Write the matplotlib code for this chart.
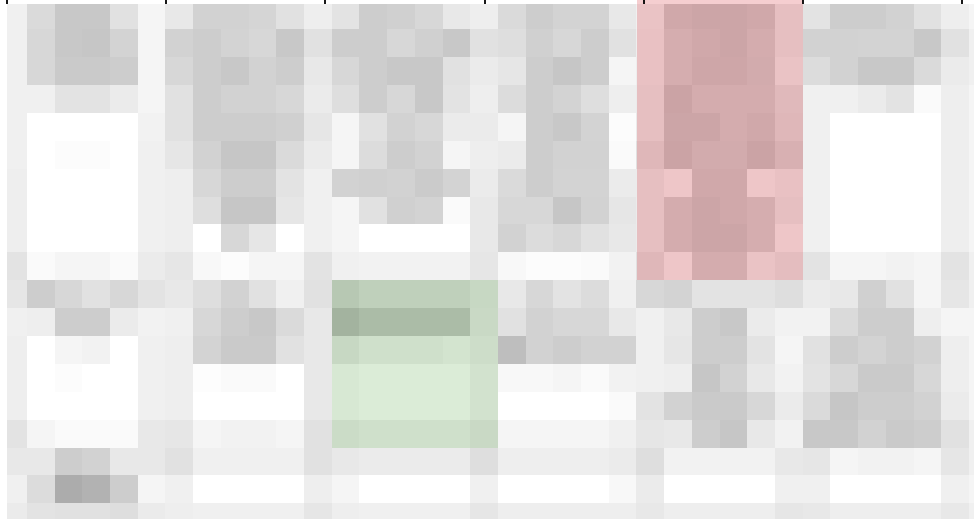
import matplotlib
matplotlib.use('Agg')
import matplotlib.pyplot as plt
from matplotlib.patches import Rectangle
import numpy as np

# grey level of each block, one list per row (0 = black, 255 = white)
row00 = [240, 218, 200, 200, 225, 245, 232, 210, 210, 213, 225, 238, 228, 205, 208, 215, 232, 238, 218, 205, 212, 212, 232, 240, 205, 200, 200, 205, 235, 228, 205, 205, 210, 225, 238, 245]
row01 = [240, 215, 200, 198, 212, 245, 210, 205, 212, 215, 200, 225, 205, 205, 215, 208, 200, 225, 222, 208, 215, 205, 225, 238, 212, 205, 200, 210, 235, 210, 210, 212, 212, 200, 225, 240]
row02 = [240, 215, 202, 202, 205, 245, 215, 205, 200, 210, 205, 232, 215, 205, 200, 200, 225, 235, 230, 205, 198, 205, 245, 238, 212, 202, 202, 208, 240, 220, 210, 200, 200, 218, 235, 240]
row03 = [240, 240, 228, 228, 235, 245, 225, 205, 210, 210, 215, 235, 222, 205, 215, 200, 228, 238, 220, 205, 212, 222, 238, 235, 198, 210, 210, 210, 228, 240, 240, 235, 228, 250, 238, 245]
row04 = [240, 255, 255, 255, 255, 242, 225, 205, 205, 205, 208, 230, 245, 225, 210, 215, 235, 235, 245, 205, 200, 212, 252, 235, 200, 200, 210, 205, 225, 240, 255, 255, 255, 255, 238, 245]
row05 = [240, 255, 252, 252, 255, 240, 230, 210, 198, 198, 218, 235, 245, 220, 205, 210, 245, 238, 235, 205, 210, 210, 250, 225, 198, 208, 208, 198, 215, 240, 255, 255, 255, 255, 238, 245]
row06 = [238, 255, 255, 255, 255, 240, 238, 215, 205, 205, 228, 240, 210, 208, 210, 203, 212, 235, 218, 205, 212, 212, 235, 235, 245, 205, 205, 245, 238, 240, 255, 255, 255, 255, 238, 245]
row07 = [238, 255, 255, 255, 255, 240, 238, 222, 198, 198, 230, 240, 245, 225, 208, 212, 250, 232, 215, 215, 198, 210, 230, 235, 210, 200, 205, 212, 235, 240, 255, 255, 255, 255, 238, 245]
row08 = [238, 255, 255, 255, 255, 240, 238, 255, 215, 230, 255, 240, 245, 255, 255, 255, 255, 232, 210, 220, 215, 225, 232, 235, 210, 200, 200, 212, 245, 240, 255, 255, 255, 255, 238, 245]
row09 = [228, 250, 245, 245, 250, 235, 230, 248, 252, 245, 245, 228, 240, 242, 242, 242, 242, 230, 248, 252, 252, 250, 242, 225, 245, 210, 210, 240, 232, 228, 245, 245, 242, 245, 228, 240]
row10 = [230, 205, 215, 225, 215, 228, 232, 222, 210, 225, 240, 225, 205, 215, 215, 215, 215, 225, 232, 215, 228, 220, 240, 215, 212, 228, 228, 228, 222, 235, 232, 208, 225, 245, 230, 240]
row11 = [240, 238, 205, 205, 235, 242, 240, 215, 205, 200, 218, 232, 180, 190, 190, 190, 190, 228, 225, 210, 215, 215, 232, 240, 232, 205, 200, 235, 242, 242, 218, 205, 205, 238, 245, 245]
row12 = [238, 255, 245, 242, 255, 240, 238, 212, 202, 202, 225, 232, 225, 235, 235, 235, 240, 232, 190, 210, 205, 210, 210, 240, 230, 205, 205, 228, 245, 225, 205, 212, 205, 210, 238, 245]
row13 = [238, 255, 252, 255, 255, 240, 238, 253, 250, 250, 255, 232, 245, 250, 250, 250, 250, 238, 248, 248, 245, 250, 242, 240, 238, 198, 210, 232, 242, 228, 215, 202, 202, 215, 238, 245]
row14 = [238, 255, 255, 255, 255, 240, 238, 255, 255, 255, 255, 232, 245, 250, 250, 250, 250, 238, 255, 255, 255, 255, 250, 228, 210, 202, 202, 215, 235, 218, 198, 205, 205, 210, 235, 245]
row15 = [228, 245, 250, 250, 250, 232, 230, 245, 242, 242, 245, 225, 230, 235, 235, 235, 235, 228, 245, 245, 245, 245, 240, 230, 232, 205, 198, 232, 242, 200, 200, 210, 202, 205, 225, 240]
row16 = [232, 232, 205, 210, 232, 232, 225, 240, 240, 240, 240, 225, 232, 235, 235, 235, 235, 222, 238, 238, 238, 238, 235, 222, 242, 242, 242, 242, 232, 230, 245, 242, 242, 245, 230, 240]
row17 = [240, 220, 172, 178, 205, 245, 240, 255, 255, 255, 255, 238, 245, 255, 255, 255, 255, 240, 255, 255, 255, 255, 248, 235, 255, 255, 255, 255, 240, 240, 255, 255, 255, 255, 240, 245]
row18 = [235, 228, 225, 225, 222, 235, 238, 240, 240, 240, 240, 230, 238, 240, 240, 240, 240, 230, 238, 238, 238, 238, 238, 232, 238, 238, 238, 238, 230, 232, 238, 238, 238, 238, 232, 240]

# highlighted blocks: (first column, last column + 1, first row, last row + 1)
red_block = (23, 29, 0, 10)
green_block = (12, 18, 10, 16)

grid = np.array([row00, row01, row02, row03, row04, row05, row06, row07, row08, row09,
                 row10, row11, row12, row13, row14, row15, row16, row17, row18], dtype=float)
n_rows, n_cols = grid.shape

fig = plt.figure(figsize=(9.74, 5.19), dpi=100)
ax = fig.add_axes([7 / 974, 0, 967 / 974, 515 / 519])

# block k spans [k-1, k] so the first block is only partly visible
ax.imshow(grid, cmap='gray', vmin=0, vmax=255, interpolation='nearest', aspect='auto',
          extent=(-1, n_cols - 1, n_rows - 1, -1))

c0, c1, r0, r1 = red_block
ax.add_patch(Rectangle((c0 - 1, r0 - 1.1), c1 - c0, r1 - r0 + 0.1, facecolor=(0.86, 0.24, 0.27),
                       alpha=0.25, edgecolor='none', clip_on=False))
c0, c1, r0, r1 = green_block
ax.add_patch(Rectangle((c0 - 1, r0 - 1), c1 - c0, r1 - r0, facecolor=(0.39, 0.71, 0.31),
                       alpha=0.2, edgecolor='none'))

left, right = -0.722, 34.18
ax.set_xlim(left, right)
ax.set_ylim(17.56, -0.907)

ax.xaxis.tick_top()
ax.set_xticks(left + np.arange(7) * 5.745)
ax.set_xticklabels([])
ax.set_yticks([])
ax.tick_params(axis='x', length=3.2, width=1.3, color='black')
for s in ax.spines.values():
    s.set_visible(False)

fig.savefig('out.png', dpi=100)
